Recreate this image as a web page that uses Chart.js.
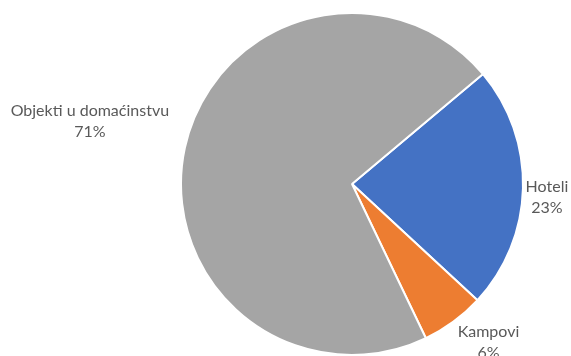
<!DOCTYPE html>
<html>
<head>
<meta charset="utf-8">
<script src="https://cdn.jsdelivr.net/npm/chart.js@4"></script>
<style>
  html, body { margin: 0; padding: 0; background: #fff; }
  #wrap { width: 571px; height: 356px; position: relative; }
</style>
</head>
<body>
<div id="wrap"><canvas id="c"></canvas></div>
<script>
// ── Data ──────────────────────────────────────────────────────────────────────
const labels = ['Hoteli', 'Kampovi', 'Objekti u domaćinstvu'];
const shares = [23, 6, 71];
const colors = ['#4472C4', '#ED7D31', '#A5A5A5'];

// label nudge from the outer midpoint of each slice
const nudge = [[24, 9], [35, 21], [-95, -27]];

const outsideLabels = {
  id: 'outsideLabels',
  afterDatasetsDraw(chart) {
    const ctx = chart.ctx;
    const arcs = chart.getDatasetMeta(0).data;
    ctx.save();
    ctx.font = '16px Lato, "Open Sans", sans-serif';
    ctx.fillStyle = '#595959';
    ctx.textAlign = 'center';
    ctx.textBaseline = 'middle';
    arcs.forEach((arc, i) => {
      const mid = (arc.startAngle + arc.endAngle) / 2;
      const x = arc.x + Math.cos(mid) * arc.outerRadius + nudge[i][0];
      const y = arc.y + Math.sin(mid) * arc.outerRadius + nudge[i][1];
      ctx.fillText(labels[i], x, y - 10.5);
      ctx.fillText(shares[i] + '%', x, y + 10.5);
    });
    ctx.restore();
  }
};

new Chart(document.getElementById('c'), {
  type: 'pie',
  data: {
    labels,
    datasets: [{
      data: shares,
      backgroundColor: colors,
      borderColor: '#fff',
      borderWidth: 2
    }]
  },
  options: {
    responsive: true, maintainAspectRatio: false,
    animation: false,
    rotation: 50,
    layout: { padding: { left: 179, right: 46, top: 12, bottom: -2 } },
    plugins: { legend: { display: false }, tooltip: { enabled: false } }
  },
  plugins: [outsideLabels]
});
</script>
</body>
</html>
